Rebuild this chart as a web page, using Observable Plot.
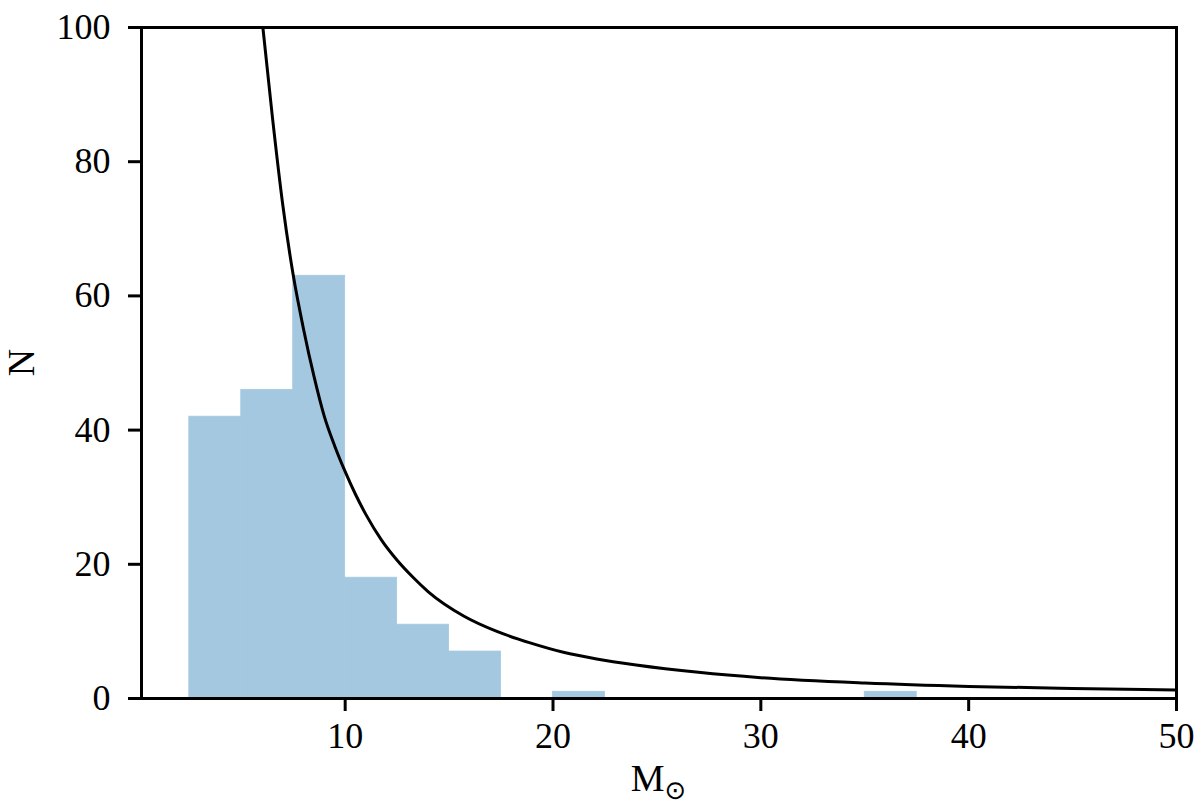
<!DOCTYPE html>
<html><head><meta charset="utf-8">
<script src="https://cdn.jsdelivr.net/npm/d3@7"></script>
<script src="https://cdn.jsdelivr.net/npm/@observablehq/plot@0.6"></script>
<style>body{margin:0;background:#fff} svg{font-family:"Liberation Serif",serif}</style>
</head><body><div id="chart"></div>
<script>
// Histogram bins (solar masses) and counts
const binLow  = [2.5, 5, 7.5, 10, 12.5, 15, 20, 35];
const binHigh = [5, 7.5, 10, 12.5, 15, 17.5, 22.5, 37.5];
const counts  = [42, 46, 63, 18, 11, 7, 1, 1];

// Fitted curve
const curveMass = [6.04, 6.5, 7, 7.5, 8, 8.5, 9, 9.5, 10, 10.5, 11, 11.75, 12.5, 13.25, 14, 15.7, 17.3, 18.9, 20.5, 22.1, 24, 27, 30, 35, 40, 45, 50];
const curveN    = [100, 86.6, 73.5, 63.1, 55, 48, 42, 37.6, 33.8, 30.4, 27.4, 23.6, 20.6, 18.1, 15.9, 12.3, 10.0, 8.3, 6.9, 5.9, 5.0, 3.9, 3.1, 2.3, 1.8, 1.5, 1.25];

const xTicks = [10, 20, 30, 40, 50];
const yTicks = [0, 20, 40, 60, 80, 100];

const bars = binLow.map((x1, i) => ({x1, x2: binHigh[i], n: counts[i]}));
const curve = curveMass.map((m, i) => ({m, n: curveN[i]}));

const W = 1200, H = 811, mL = 141, mR = 24, mT = 27, mB = 113;
const plot = Plot.plot({
  width: W, height: H, marginLeft: mL, marginRight: mR, marginTop: mT, marginBottom: mB,
  style: {fontFamily: "Liberation Serif", fontSize: "36px", color: "#000", background: "#fff"},
  x: {domain: [0.2, 50]},
  y: {domain: [0, 100]},
  marks: [
    Plot.rectY(bars, {x1: "x1", x2: "x2", y: "n", fill: "#a5c8e1", stroke: "#a5c8e1", strokeWidth: 0.8, inset: 0}),
    Plot.line(curve, {x: "m", y: "n", stroke: "#000", strokeWidth: 3, curve: "monotone-x", clip: true}),
    Plot.axisX({ticks: xTicks, tickSize: 13, tickPadding: 11, label: null, fontSize: 36, strokeWidth: 3}),
    Plot.axisY({ticks: yTicks, tickSize: 13, tickPadding: 18, label: null, fontSize: 36, strokeWidth: 3}),
    Plot.frame({stroke: "#000", strokeWidth: 3})
  ]
});
document.getElementById("chart").appendChild(plot);

const svg = d3.select(plot);
svg.append("text")
  .attr("transform", `translate(21,${(mT + H - mB) / 2}) rotate(-90)`)
  .attr("text-anchor", "middle").attr("dominant-baseline", "central")
  .attr("font-size", 38).attr("fill", "#000").text("N");
const xl = svg.append("text")
  .attr("x", (mL + W - mR) / 2).attr("y", 791)
  .attr("text-anchor", "middle").attr("font-size", 38).attr("fill", "#000");
xl.append("tspan").text("M");
xl.append("tspan").attr("dy", 8).attr("font-size", 26).attr("font-family", "DejaVu Sans").text("⊙");
</script>
</body></html>
